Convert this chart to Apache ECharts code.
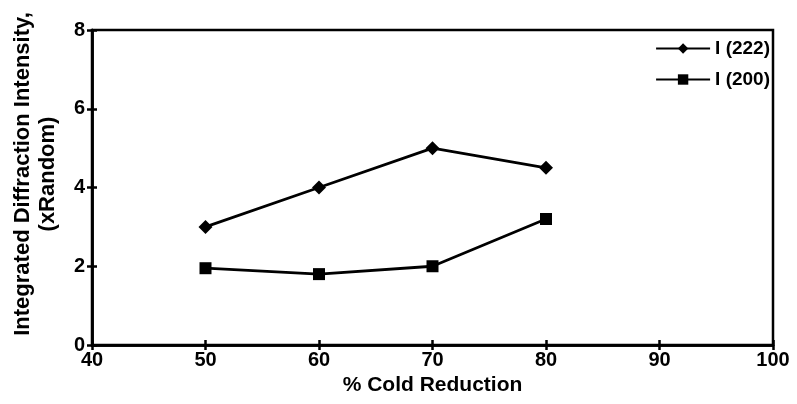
<!DOCTYPE html>
<html><head><meta charset="utf-8">
<script src="https://cdn.jsdelivr.net/npm/echarts@6/dist/echarts.min.js"></script>
<style>html,body{margin:0;padding:0;background:#fff}#c{width:797px;height:404px}</style>
</head><body><div id="c"></div>
<script>
const xValues = [50, 60, 70, 80];
const i222 = [3.0, 4.0, 5.0, 4.5];
const i200 = [1.95, 1.8, 2.0, 3.2];
const xTicks = [40, 50, 60, 70, 80, 90, 100];
const yTicks = [0, 2, 4, 6, 8];

const font = '"Liberation Sans", Arial, sans-serif';
const chart = echarts.init(document.getElementById('c'), null, {renderer: 'canvas'});
const axisCommon = {
  axisLine: {show: true, lineStyle: {color: '#000', width: 2.5}},
  splitLine: {show: false}
};
chart.setOption({
  animation: false,
  backgroundColor: '#fff',
  grid: {left: 92, right: 24, top: 30, bottom: 59, show: true, borderColor: '#000', borderWidth: 2.5,
         containLabel: false, outerBoundsMode: 'none'},
  legend: {
    orient: 'vertical', right: 24, top: 36, itemWidth: 54, itemHeight: 13, itemGap: 12, padding: 3,
    textStyle: {fontFamily: font, fontWeight: 'bold', fontSize: 19, color: '#000'},
    data: ['I (222)', 'I (200)']
  },
  xAxis: [{
    type: 'value', min: xTicks[0], max: xTicks[xTicks.length - 1], interval: 10,
    name: '% Cold Reduction', nameLocation: 'middle', nameGap: 29,
    nameTextStyle: {fontFamily: font, fontWeight: 'bold', fontSize: 21, color: '#000'},
    axisTick: {show: true, length: 5, lineStyle: {color: '#000', width: 2.5}},
    axisLabel: {fontFamily: font, fontWeight: 'bold', fontSize: 20, color: '#000', margin: 5},
    ...axisCommon
  }, {
    type: 'value', position: 'bottom', min: xTicks[0], max: xTicks[xTicks.length - 1], interval: 10,
    axisTick: {show: true, inside: true, length: 5, lineStyle: {color: '#000', width: 2.5}},
    axisLabel: {show: false}, ...axisCommon
  }],
  yAxis: [{
    type: 'value', min: yTicks[0], max: yTicks[yTicks.length - 1], interval: 2,
    name: 'Integrated Diffraction Intensity,\n(xRandom)', nameLocation: 'middle', nameGap: 32,
    nameTextStyle: {fontFamily: font, fontWeight: 'bold', fontSize: 22, color: '#000', lineHeight: 25,
                    padding: [0, 0, 0, 27]},
    axisTick: {show: true, length: 5, lineStyle: {color: '#000', width: 2.5}},
    axisLabel: {fontFamily: font, fontWeight: 'bold', fontSize: 20, color: '#000', margin: 7},
    ...axisCommon
  }, {
    type: 'value', position: 'left', min: yTicks[0], max: yTicks[yTicks.length - 1], interval: 2,
    axisTick: {show: true, inside: true, length: 5, lineStyle: {color: '#000', width: 2.5}},
    axisLabel: {show: false}, ...axisCommon
  }],
  series: [{
    name: 'I (222)', type: 'line', symbol: 'diamond', symbolSize: 14,
    data: xValues.map((x, i) => [x, i222[i]]),
    lineStyle: {color: '#000', width: 2.8}, itemStyle: {color: '#000'}
  }, {
    name: 'I (200)', type: 'line', symbol: 'rect', symbolSize: 12,
    data: xValues.map((x, i) => [x, i200[i]]),
    lineStyle: {color: '#000', width: 2.8}, itemStyle: {color: '#000'}
  }]
});
</script></body></html>
